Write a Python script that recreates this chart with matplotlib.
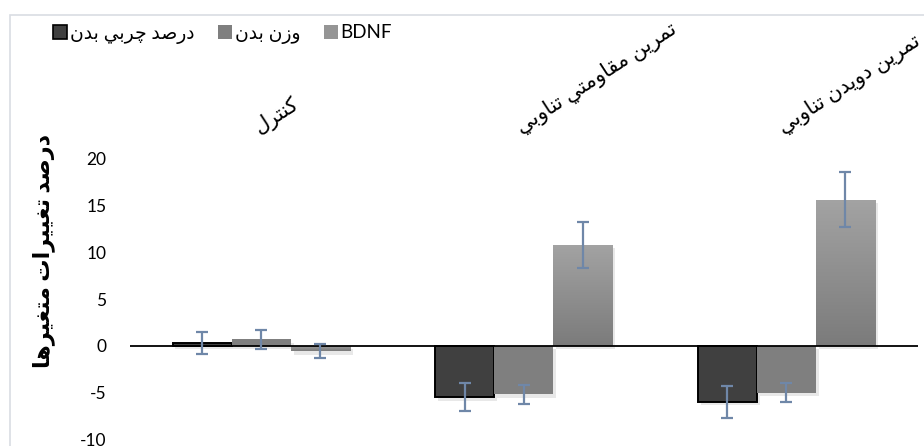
import numpy as np
import matplotlib
matplotlib.use("Agg")
import matplotlib.pyplot as plt
import matplotlib.patheffects as pe
from matplotlib.colors import LinearSegmentedColormap
from matplotlib.patches import Rectangle, Patch

# ---------------- data ----------------
categories = ["کنترل", "تمرين مقاومتي تناوبي", "تمرين دويدن تناوبي"]
series_names = ["درصد چربي بدن", "وزن بدن", "BDNF"]
body_fat = [0.3, -5.5, -6.0]
body_fat_err = [1.15, 1.5, 1.7]
body_weight = [0.7, -5.2, -5.0]
body_weight_err = [1.0, 1.0, 1.0]
bdnf = [-0.6, 10.8, 15.6]
bdnf_err = [0.75, 2.45, 2.95]
y_ticks = [-10, -5, 0, 5, 10, 15, 20]
y_label = "درصد تغييرات متغيرها"

# ---------------- minimal Arabic shaping ----------------
FORMS = {
    '\u0627': ('\uFE8D', '\uFE8E', None, None),
    '\u0628': ('\uFE8F', '\uFE90', '\uFE91', '\uFE92'),
    '\u062A': ('\uFE95', '\uFE96', '\uFE97', '\uFE98'),
    '\u062F': ('\uFEA9', '\uFEAA', None, None),
    '\u0631': ('\uFEAD', '\uFEAE', None, None),
    '\u0632': ('\uFEAF', '\uFEB0', None, None),
    '\u0635': ('\uFEB9', '\uFEBA', '\uFEBB', '\uFEBC'),
    '\u063A': ('\uFECD', '\uFECE', '\uFECF', '\uFED0'),
    '\u0642': ('\uFED5', '\uFED6', '\uFED7', '\uFED8'),
    '\u0643': ('\uFED9', '\uFEDA', '\uFEDB', '\uFEDC'),
    '\u0644': ('\uFEDD', '\uFEDE', '\uFEDF', '\uFEE0'),
    '\u0645': ('\uFEE1', '\uFEE2', '\uFEE3', '\uFEE4'),
    '\u0646': ('\uFEE5', '\uFEE6', '\uFEE7', '\uFEE8'),
    '\u0647': ('\uFEE9', '\uFEEA', '\uFEEB', '\uFEEC'),
    '\u0648': ('\uFEED', '\uFEEE', None, None),
    '\u064A': ('\uFEF1', '\uFEF2', '\uFEF3', '\uFEF4'),
    '\u0686': ('\uFB7A', '\uFB7B', '\uFB7C', '\uFB7D'),
    '\u06A9': ('\uFB8E', '\uFB8F', '\uFB90', '\uFB91'),
    '\u06CC': ('\uFBFC', '\uFBFD', '\uFBFE', '\uFBFF'),
}


def shape(text):
    if not any(c in FORMS for c in text):
        return text
    out = []
    n = len(text)
    for i, c in enumerate(text):
        if c not in FORMS:
            out.append(c)
            continue
        iso, fin, ini, med = FORMS[c]
        prev = text[i - 1] if i > 0 else None
        nxt = text[i + 1] if i < n - 1 else None
        join_prev = prev in FORMS and FORMS[prev][2] is not None
        join_next = ini is not None and nxt in FORMS
        if join_prev and join_next:
            out.append(med)
        elif join_prev:
            out.append(fin)
        elif join_next:
            out.append(ini)
        else:
            out.append(iso)
    return ''.join(out)[::-1]


# ---------------- figure ----------------
plt.rcParams['font.family'] = ['Lato', 'DejaVu Sans']
W, H, DPI = 924, 446, 100
fig = plt.figure(figsize=(W / DPI, H / DPI), dpi=DPI)

left_px, right_px = 130, 917.7
top_px, bot_px = 158.6, 439.4
ax = fig.add_axes([left_px / W, 1 - bot_px / H, (right_px - left_px) / W,
                   (bot_px - top_px) / H])

# chart-area border
fig.patches.append(Rectangle((10 / W, -0.1), 1.2, 1.1 - 15 / H,
                             transform=fig.transFigure, fill=False,
                             edgecolor='#d9dde3', linewidth=1.2))

x = np.arange(len(categories))
bw = 0.225
err_kw = dict(ecolor='#6f87a8', elinewidth=1.6, capsize=4.2, capthick=1.6)
shadow = [pe.SimplePatchShadow(offset=(2, -2.5), shadow_rgbFace='#999999',
                               alpha=0.22), pe.Normal()]

b1 = ax.bar(x - bw, body_fat, bw, color='#404040', edgecolor='black',
            linewidth=1.4, zorder=2)
b2 = ax.bar(x, body_weight, bw, color='#7f7f7f', linewidth=0, zorder=2)
b3 = ax.bar(x + bw, bdnf, bw, color='#909090', linewidth=0, zorder=2)
for bars in (b1, b2, b3):
    for p in bars:
        p.set_path_effects(shadow)

# gradient fill for BDNF bars
cmap = LinearSegmentedColormap.from_list('g', ['#a3a3a3', '#7b7b7b'])
grad = np.linspace(0, 1, 256).reshape(-1, 1)
for p in b3:
    x0, y0 = p.get_x(), p.get_y()
    w, h = p.get_width(), p.get_height()
    yb, yt = min(y0, y0 + h), max(y0, y0 + h)
    im = ax.imshow(grad, extent=[x0, x0 + w, yb, yt], origin='upper',
                   aspect='auto', cmap=cmap, zorder=2.1)
    im.set_clip_path(p)

ax.errorbar(x - bw, body_fat, yerr=body_fat_err, fmt='none', zorder=4, **err_kw)
ax.errorbar(x, body_weight, yerr=body_weight_err, fmt='none', zorder=4, **err_kw)
ax.errorbar(x + bw, bdnf, yerr=bdnf_err, fmt='none', zorder=4, **err_kw)

ax.axhline(0, color='black', linewidth=1.3, zorder=3)

ax.set_xlim(-0.5, len(categories) - 0.5)
ax.set_ylim(-10, 20)
ax.set_yticks(y_ticks)
ax.set_yticklabels([str(v) for v in y_ticks])
ax.tick_params(axis='y', length=0, pad=17, labelsize=12.5)
for s in ax.spines.values():
    s.set_visible(False)

# category labels on top, rotated
ax.xaxis.tick_top()
ax.set_xticks(x)
ax.set_xticklabels([shape(c) for c in categories], rotation=33,
                   ha='left', va='bottom', rotation_mode='anchor',
                   fontsize=15)
ax.tick_params(axis='x', length=0, pad=15)

ax.set_ylabel(shape(y_label), fontsize=16, fontweight='bold')
ax.yaxis.set_label_coords(-0.0952, 0.671)

handles = [Patch(facecolor='#404040', edgecolor='black', linewidth=1.2),
           Patch(facecolor='#7f7f7f'),
           Patch(facecolor='#959595')]
fig.legend(handles, [shape(s) for s in series_names], ncol=3,
           loc='center left', bbox_to_anchor=(53 / W, 1 - 34 / H),
           frameon=False, fontsize=13.5, handlelength=0.75, handleheight=0.75,
           handletextpad=0.15, columnspacing=1.25, borderpad=0,
           borderaxespad=0)

fig.savefig('out.png', dpi=DPI)
